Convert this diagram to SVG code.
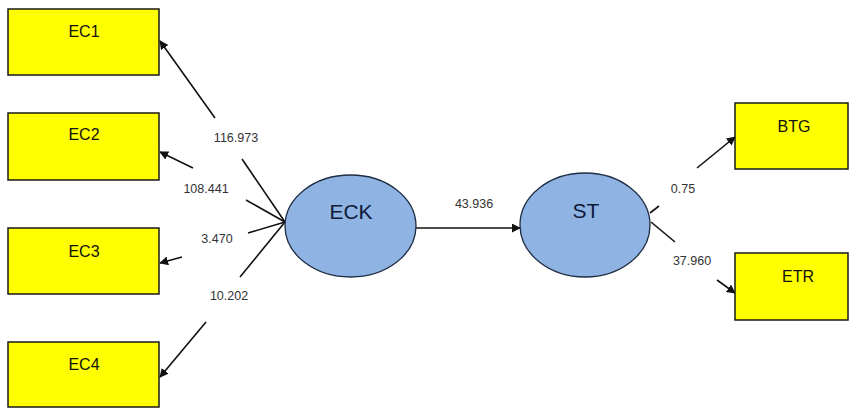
<svg xmlns="http://www.w3.org/2000/svg" width="850" height="408" viewBox="0 0 850 408">
<defs>
<style>
.box{fill:#ffff00;stroke:#1a1a1a;stroke-width:1.5}
.ell{fill:#8fb3e2;stroke:#1f2d44;stroke-width:1.3}
.bt{font-family:"Liberation Sans",Arial,sans-serif;font-size:16px;fill:#111;text-anchor:middle}
.et{font-family:"Liberation Sans",Arial,sans-serif;font-size:21px;fill:#0d1a3a;text-anchor:middle}
.nt{font-family:"Liberation Sans",Arial,sans-serif;font-size:12.5px;fill:#333;text-anchor:middle}
.ln{stroke:#111;stroke-width:1.6;fill:none}
</style>
<marker id="ah" viewBox="0 0 10 10" refX="9" refY="5" markerWidth="9" markerHeight="9" markerUnits="userSpaceOnUse" orient="auto">
<path d="M0,0 L10,5 L0,10 z" fill="#111"/>
</marker>
</defs>
<rect width="850" height="408" fill="#ffffff"/>
<g id="connectors">
<line class="ln" x1="285" y1="222" x2="242" y2="159"/>
<line class="ln" x1="215" y1="118" x2="160" y2="41" marker-end="url(#ah)"/>
<line class="ln" x1="285" y1="222" x2="246" y2="200"/>
<line class="ln" x1="193" y1="168" x2="160" y2="152" marker-end="url(#ah)"/>
<line class="ln" x1="285" y1="222" x2="248" y2="233"/>
<line class="ln" x1="182" y1="257" x2="160" y2="263" marker-end="url(#ah)"/>
<line class="ln" x1="285" y1="222" x2="240" y2="277"/>
<line class="ln" x1="206" y1="322" x2="160" y2="377" marker-end="url(#ah)"/>
<line class="ln" x1="416" y1="228" x2="520" y2="228" marker-end="url(#ah)"/>
<line class="ln" x1="650" y1="213" x2="659" y2="206"/>
<line class="ln" x1="697" y1="168" x2="735" y2="137" marker-end="url(#ah)"/>
<line class="ln" x1="651" y1="222" x2="675" y2="242"/>
<line class="ln" x1="717" y1="280" x2="735" y2="293" marker-end="url(#ah)"/>
<text class="nt" x="236" y="142">116.973</text>
<text class="nt" x="206" y="193">108.441</text>
<text class="nt" x="217" y="243">3.470</text>
<text class="nt" x="229" y="300">10.202</text>
<text class="nt" x="474" y="208">43.936</text>
<text class="nt" x="683" y="193">0.75</text>
<text class="nt" x="692" y="265">37.960</text>
</g>
<g id="EC1"><rect class="box" x="8" y="9" width="151" height="66"/><text class="bt" x="84" y="37">EC1</text></g>
<g id="EC2"><rect class="box" x="8" y="113" width="151" height="67"/><text class="bt" x="84" y="140">EC2</text></g>
<g id="EC3"><rect class="box" x="8" y="228" width="151" height="66"/><text class="bt" x="84" y="257">EC3</text></g>
<g id="EC4"><rect class="box" x="8" y="342" width="151" height="65"/><text class="bt" x="84" y="370">EC4</text></g>
<g id="ECK"><ellipse class="ell" cx="350.5" cy="226" rx="65.5" ry="51"/><text class="et" x="351" y="219">ECK</text></g>
<g id="ST"><ellipse class="ell" cx="585" cy="225" rx="65" ry="52"/><text class="et" x="586" y="218">ST</text></g>
<g id="BTG"><rect class="box" x="735" y="103" width="113" height="66"/><text class="bt" x="794" y="132">BTG</text></g>
<g id="ETR"><rect class="box" x="735" y="253" width="113" height="67"/><text class="bt" x="798" y="282">ETR</text></g>
</svg>
